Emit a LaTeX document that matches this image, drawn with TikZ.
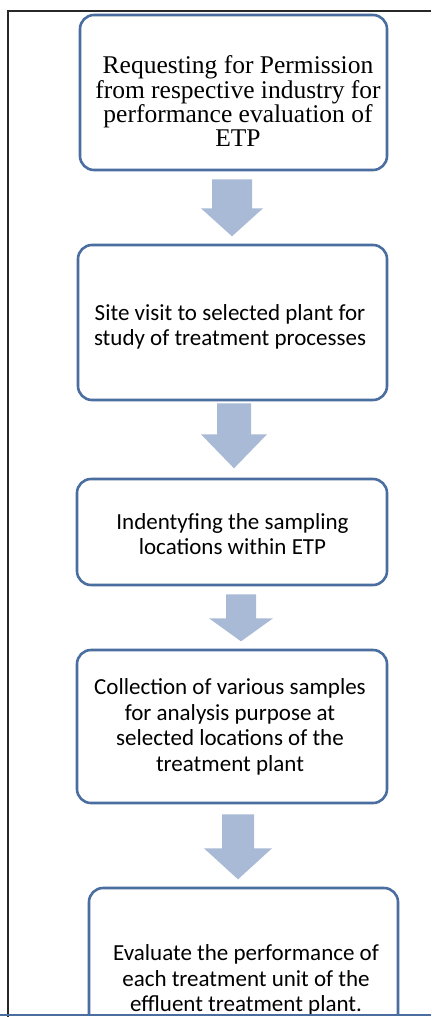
\documentclass[tikz,border=0pt]{standalone}
\usepackage{fontspec}
\setmainfont{Liberation Serif}
\newfontfamily\calfont{Carlito}
\usetikzlibrary{calc}
\definecolor{boxline}{RGB}{74,110,160}
\definecolor{arrfill}{RGB}{168,186,214}
\definecolor{framec}{RGB}{40,40,40}
\newcommand\flowarrow[7]{%
  \fill[arr] ($(#1.south)+(#2-#6,#3)$) -- ($(#1.south)+(#2+#6,#3)$)
    -- ($(#1.south)+(#2+#6,#4)$) -- ($(#1.south)+(#2+#7,#4)$)
    -- ($(#1.south)+(#2,#5)$) -- ($(#1.south)+(#2-#7,#4)$)
    -- ($(#1.south)+(#2-#6,#4)$) -- cycle;}
\begin{document}
\begin{tikzpicture}[x=1pt,y=-1pt,
  box/.style={draw=boxline, line width=2.6pt, rounded corners=14pt, fill=white, inner sep=0pt},
  seriftext/.style={font=\fontsize{25.5}{21.5}\selectfont, align=center, inner sep=0pt},
  caltext/.style={font=\calfont\fontsize{23}{25.5}\selectfont, align=center, inner sep=0pt},
  arr/.style={fill=arrfill, draw=none}]
\useasboundingbox (0,0) rectangle (431,1017);
\fill[white] (0,0) rectangle (431,1017);
\begin{scope}
\clip (0,0) rectangle (431,1015);
\node[box, minimum width=307pt, minimum height=155pt] (b1) at (233.5,92.5) {};
\node[box, minimum width=309pt, minimum height=155pt] (b2) at (232.5,322.5) {};
\node[box, minimum width=310pt, minimum height=106pt] (b3) at (232,532) {};
\node[box, minimum width=310pt, minimum height=153pt] (b4) at (232,726.5) {};
\node[box, minimum width=309pt, minimum height=172pt] (b5) at (243.5,974) {};

\node[seriftext] (t1) at (238,101) {Requesting for Permission\\from respective industry for\\performance evaluation of\\ETP};
\node[caltext] (t2) at (230,327) {Site visit to selected plant for\\study of treatment processes};
\node[caltext] (t3) at (232.5,534) {Indentyfing the sampling\\locations within ETP};
\node[caltext] (t4) at (230,727) {Collection of various samples\\for analysis purpose at\\selected locations of the\\treatment plant};
\node[caltext] (t5) at (246,980) {Evaluate the performance of\\each treatment unit of the\\effluent treatment plant.};

\flowarrow{b1}{-1.5}{8}{37}{65}{20}{31}
\flowarrow{b2}{1.5}{2}{33}{67}{17}{33}
\flowarrow{b3}{9}{8}{32}{55}{15}{32}
\flowarrow{b4}{6}{10}{44}{75}{16}{34}
\end{scope}
\draw[framec, line width=1.5pt] (8,1017) -- (8,11) -- (431,11);
\draw[boxline, line width=1.6pt] (0,1015) -- (431,1015);
\end{tikzpicture}
\end{document}
